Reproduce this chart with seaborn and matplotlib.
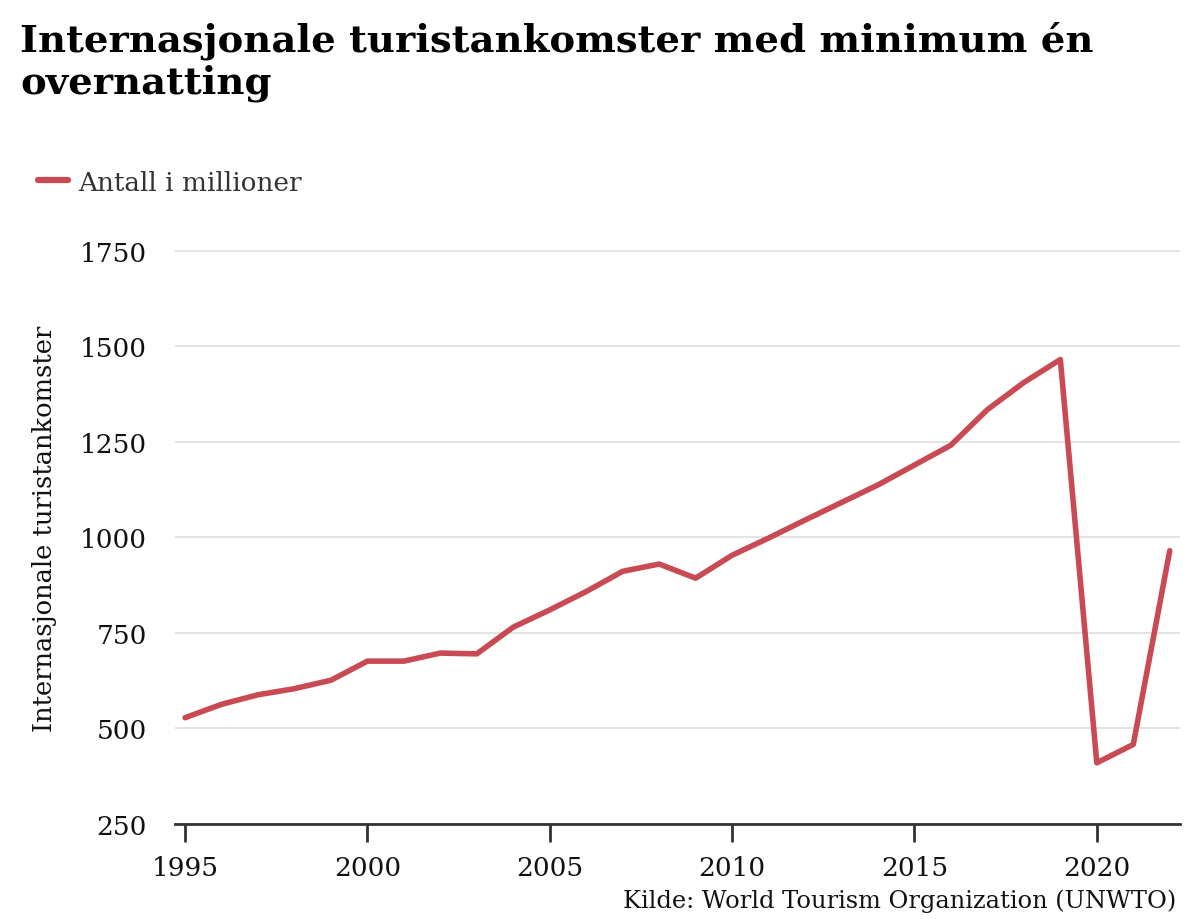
import matplotlib
matplotlib.use("Agg")
import matplotlib.pyplot as plt
import seaborn as sns
import pandas as pd
from matplotlib.lines import Line2D

years = list(range(1995, 2023))
arrivals = [528, 563, 588, 604, 626, 676, 676, 697, 695, 765, 810, 858, 911, 930, 893, 953, 998, 1045, 1091, 1137, 1189, 1241, 1334, 1405, 1465, 410, 458, 965]
series_label = "Antall i millioner"
y_ticks = [250, 500, 750, 1000, 1250, 1500, 1750]
x_ticks = [1995, 2000, 2005, 2010, 2015, 2020]

df = pd.DataFrame({"year": years, "value": arrivals, "serie": series_label})

sns.set_theme(style="white")
plt.rcParams["font.family"] = ["DejaVu Serif"]

fig = plt.figure(figsize=(12, 9.2), dpi=100)
ax = fig.add_axes([0.146, 0.1033, 0.837, 0.644])

sns.lineplot(data=df, x="year", y="value", hue="serie", palette=["#c94a53"],
             linewidth=4.0, ax=ax, legend=False)

ax.set_xlim(1994.73, 2022.27)
ax.set_ylim(250, 1800)
ax.set_yticks(y_ticks)
ax.set_xticks(x_ticks)
ax.set_xticklabels([str(x) for x in x_ticks], fontsize=19)
ax.set_yticklabels([str(y) for y in y_ticks], fontsize=19)
ax.grid(axis="y", color="#e0e0e0", linewidth=1.3)
ax.set_axisbelow(True)
for s in ["top", "right", "left"]:
    ax.spines[s].set_visible(False)
ax.spines["bottom"].set_color("#333333")
ax.spines["bottom"].set_linewidth(2)
ax.tick_params(axis="x", length=13, width=2, color="#333333", pad=9, labelcolor="#111111", bottom=True)
ax.tick_params(axis="y", length=0, pad=20.5, labelcolor="#111111")
ax.set_xlabel("")
ax.set_ylabel("Internasjonale turistankomster", fontsize=18.5, labelpad=16, color="#111111")

handle = Line2D([0], [0], color="#c94a53", linewidth=4.5, solid_capstyle="round")
fig.legend([handle], [series_label], loc="center left", bbox_to_anchor=(0.016, 0.801),
           frameon=False, fontsize=18.9, handlelength=1.15, handletextpad=0.4,
           labelcolor="#333333", borderpad=0.2)

fig.text(0.017, 0.933, "Internasjonale turistankomster med minimum én\novernatting",
         fontsize=27.7, fontweight="bold", ha="left", va="center", linespacing=1.18,
         color="black")
fig.text(0.98, 0.02, "Kilde: World Tourism Organization (UNWTO)", fontsize=17.4,
         ha="right", va="center", color="#111111")

fig.savefig("out.png", dpi=100)
